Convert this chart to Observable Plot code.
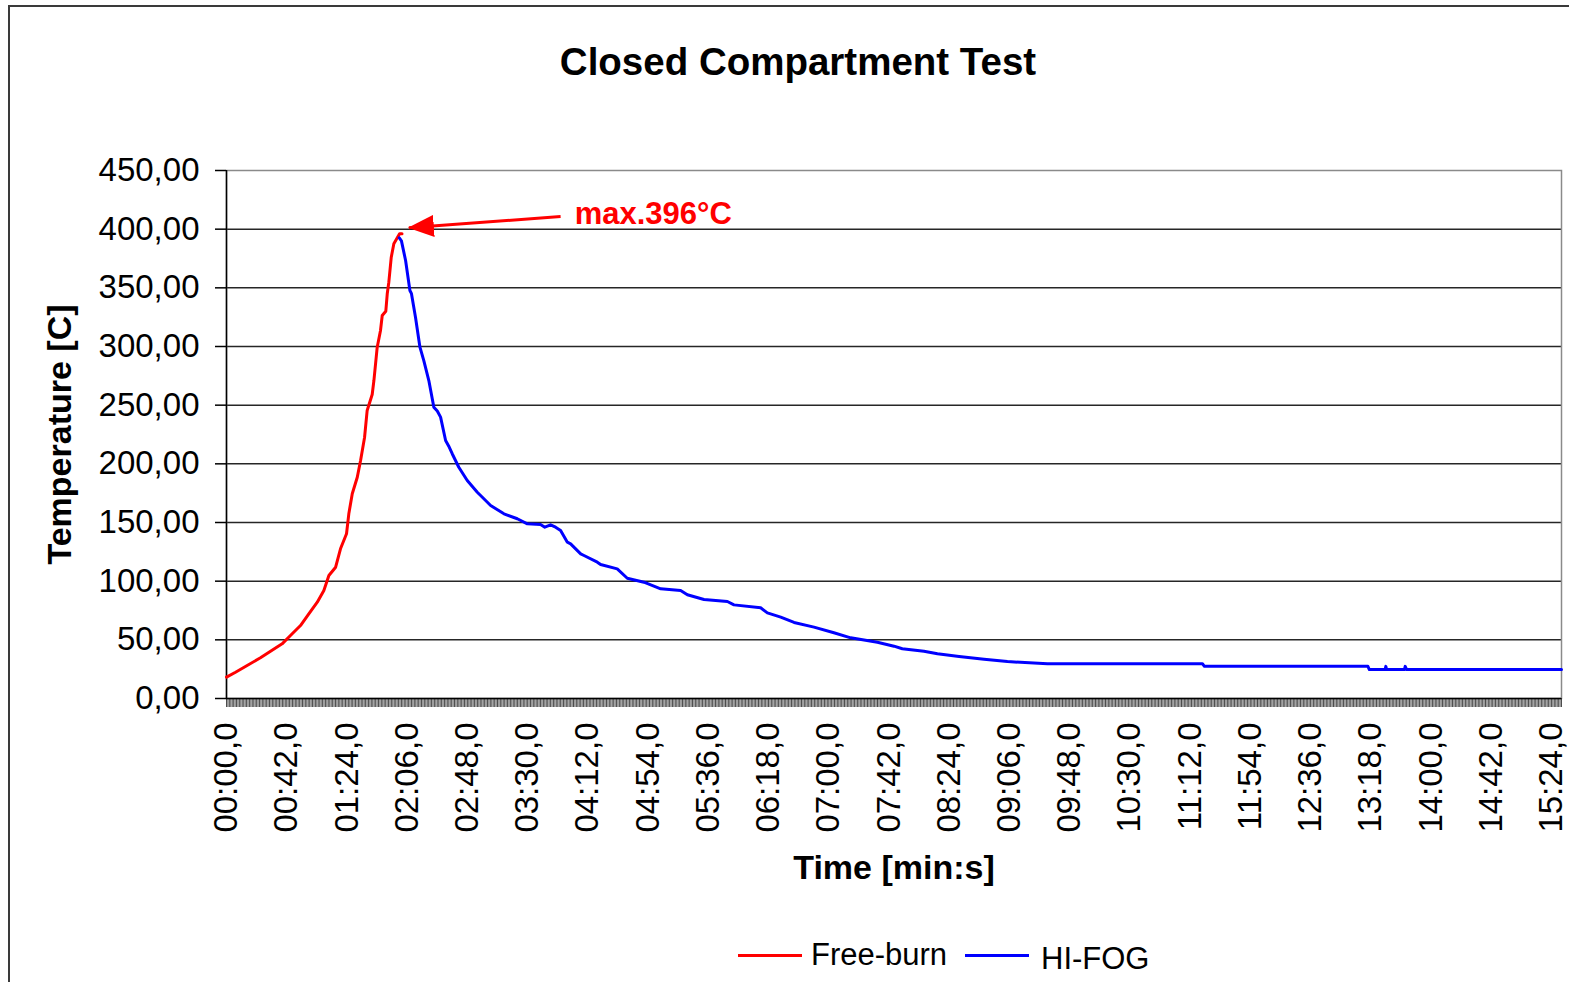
<!DOCTYPE html>
<html>
<head>
<meta charset="utf-8">
<script src="https://cdn.jsdelivr.net/npm/d3@7"></script>
<script src="https://cdn.jsdelivr.net/npm/@observablehq/plot@0.6"></script>
<style>
html, body { margin: 0; padding: 0; background: #fff; overflow: hidden; }
#wrap { position: relative; width: 1569px; height: 982px; overflow: hidden; font-family: "Liberation Sans", Arial, sans-serif; color: #000; }
#frame { position: absolute; left: 8px; top: 5px; width: 1640px; height: 1040px; border: 2px solid #3a3a3a; box-sizing: border-box; }
#chart { position: absolute; left: 0; top: 0; }
#title { position: absolute; left: 0; width: 1596px; top: 38px; text-align: center; font-weight: bold; font-size: 38.5px; line-height: 48px; }
.lg-line { position: absolute; height: 3px; width: 64px; }
.lg-text { position: absolute; font-size: 31px; line-height: 36px; white-space: nowrap; }
</style>
</head>
<body>
<div id="wrap">
  <div id="frame"></div>
  <div id="chart"></div>
  <div id="title">Closed Compartment Test</div>
  <div class="lg-line" style="left:738px; top:954px; background:#ff0000;"></div>
  <div class="lg-text" style="left:811px; top:937px;">Free-burn</div>
  <div class="lg-line" style="left:965px; top:954px; background:#0000ff;"></div>
  <div class="lg-text" style="left:1041px; top:941px;">HI-FOG</div>
</div>
<script>
// ---- data (time in seconds, temperature in °C) ----
const freeBurnTime = [0, 6.3, 14.4, 23.7, 30.7, 38.8, 44.6, 51.6, 57.4, 63.3, 67.9, 71.4, 76.1, 79.5, 83.7, 85.3, 87.7, 91.2, 93.5, 96.3, 98.1, 101.6, 102.8, 105.1, 107.4, 108.6, 111.1, 112.1, 113.2, 114.9, 116.7, 119.1, 120.7, 122.4];
const freeBurnTemp = [18.2, 22.4, 28.1, 34.7, 40.3, 46.6, 53.7, 62.2, 72.2, 82.1, 92.0, 104.8, 111.9, 127.6, 140.4, 157.4, 174.5, 188.6, 202.8, 222.7, 245.5, 259.1, 271.0, 299.4, 313.6, 326.4, 330.1, 344.9, 354.8, 376.1, 387.5, 392.6, 396.0, 396.0];

const hifogTime = [120.5, 122, 124.9, 127.9, 129, 131.8, 134.9, 137.6, 141.1, 144.6, 147, 149.3, 152.8, 155, 157.4, 162, 167.9, 174.9, 184.2, 193.5, 202.8, 209.8, 219, 222, 226, 229.5, 233, 237.7, 240, 247, 249.3, 258.6, 260.9, 272.5, 279.5, 291.1, 302.8, 316.7, 321.4, 333, 349.3, 353.9, 372.5, 377.2, 386.5, 395.8, 409.7, 423.6, 435.3, 453.9, 465.5, 471.3, 486.4, 495.8, 510.9, 528.3, 544.6, 572.5, 680.6, 682, 796, 797, 808, 808.5, 809, 821.5, 822, 823, 931];
const hifogTemp = [392.6, 390.0, 373.3, 347.7, 345.0, 325.0, 299.4, 288.0, 271.0, 248.3, 245.0, 239.8, 219.9, 215.0, 208.6, 197.1, 185.8, 175.8, 164.5, 157.4, 153.2, 148.9, 148.3, 146.0, 148.0, 146.0, 143.2, 133.2, 131.8, 123.3, 121.9, 116.2, 114.2, 110.5, 102.5, 99.1, 93.5, 92.0, 88.4, 84.4, 82.7, 79.8, 77.3, 73.0, 69.3, 64.8, 60.8, 56.0, 51.7, 48.0, 44.6, 42.4, 40.3, 38.1, 35.8, 33.5, 31.5, 29.6, 29.6, 27.4, 27.4, 24.7, 24.7, 27.4, 24.7, 24.7, 27.4, 24.7, 24.7];

const yTickValues = [0, 50, 100, 150, 200, 250, 300, 350, 400, 450];
const xTickValues = d3.range(0, 925, 42);   // labelled every 42 s
const xMinorTicks = d3.range(0, 932, 1);    // one tick per sample (1 s)
const xMax = 931;

const annotationLabel = ["max.396°C"];
const annotationTextX = [242.8], annotationTextY = [412.5];
const arrowFromX = [233], arrowFromY = [410.8];
const arrowToX = [127.2], arrowToY = [401.2];

// ---- build tables ----
const freeBurn = freeBurnTime.map((t, i) => ({t, v: freeBurnTemp[i]}));
const hifog = hifogTime.map((t, i) => ({t, v: hifogTemp[i]}));
const annotation = annotationLabel.map((label, i) => ({label, x: annotationTextX[i], y: annotationTextY[i]}));
const arrow = arrowFromX.map((x1, i) => ({x1, y1: arrowFromY[i], x2: arrowToX[i], y2: arrowToY[i]}));

const pad2 = n => String(n).padStart(2, "0");
const fmtTime = s => `${pad2(Math.floor(s / 60))}:${pad2(s % 60)},0`;
const fmtY = v => d3.format(".2f")(v).replace(".", ",");

function headMarker(color) {
  const m = d3.create("svg:marker")
    .attr("viewBox", "0 -11 26 22")
    .attr("markerWidth", 26)
    .attr("markerHeight", 22)
    .attr("markerUnits", "userSpaceOnUse")
    .attr("refX", 25)
    .attr("refY", 0)
    .attr("orient", "auto")
    .attr("fill", color)
    .attr("stroke", "none");
  m.append("path").attr("d", "M0,-11L26,0L0,11Z");
  return m.node();
}

function build(marker) {
  return Plot.plot({
    width: 1569,
    height: 982,
    marginLeft: 226,
    marginRight: 8,
    marginTop: 170,
    marginBottom: 284,
    style: {fontFamily: "'Liberation Sans', Arial, sans-serif", fontSize: "33px", color: "#000", background: "transparent", overflow: "visible"},
    x: {domain: [0, xMax], label: null},
    y: {domain: [0, 450], label: null},
    marks: [
      Plot.gridY({ticks: yTickValues.filter(v => v > 0 && v < 450), stroke: "#262626", strokeOpacity: 1, strokeWidth: 1.5}),
      Plot.frame({stroke: "#8a8a8a", strokeWidth: 1.5}),
      Plot.axisY({ticks: yTickValues, tickFormat: fmtY, tickSize: 11, tickPadding: 16, fontSize: 33, strokeWidth: 1.5, label: null}),
      Plot.axisX({ticks: xMinorTicks, tickSize: 9, fill: "none", stroke: "#000", strokeWidth: 0.7, label: null}),
      Plot.axisX({ticks: xTickValues, tickFormat: fmtTime, tickSize: 0, tickPadding: 24, tickRotate: -90, fontSize: 33, label: null}),
      Plot.ruleX([0], {stroke: "#000", strokeWidth: 1.5}),
      Plot.ruleY([0], {stroke: "#000", strokeWidth: 1.5}),
      Plot.line(freeBurn, {x: "t", y: "v", stroke: "#ff0000", strokeWidth: 3}),
      Plot.line(hifog, {x: "t", y: "v", stroke: "#0000ff", strokeWidth: 3}),
      Plot.link(arrow, {x1: "x1", y1: "y1", x2: "x2", y2: "y2", stroke: "#ff0000", strokeWidth: 3, markerEnd: marker}),
      Plot.text(annotation, {x: "x", y: "y", text: "label", fill: "#ff0000", fontWeight: "bold", fontSize: 31, textAnchor: "start"}),
      Plot.text(["Temperature [C]"], {frameAnchor: "left", dx: -166, rotate: -90, textAnchor: "middle", lineAnchor: "middle", fontWeight: "bold", fontSize: 34}),
      Plot.text(["Time [min:s]"], {frameAnchor: "bottom", dy: 170, textAnchor: "middle", lineAnchor: "middle", fontWeight: "bold", fontSize: 34})
    ]
  });
}

let svg;
try { svg = build(headMarker); } catch (e) { svg = build("arrow"); }
document.getElementById("chart").appendChild(svg);
</script>
</body>
</html>
